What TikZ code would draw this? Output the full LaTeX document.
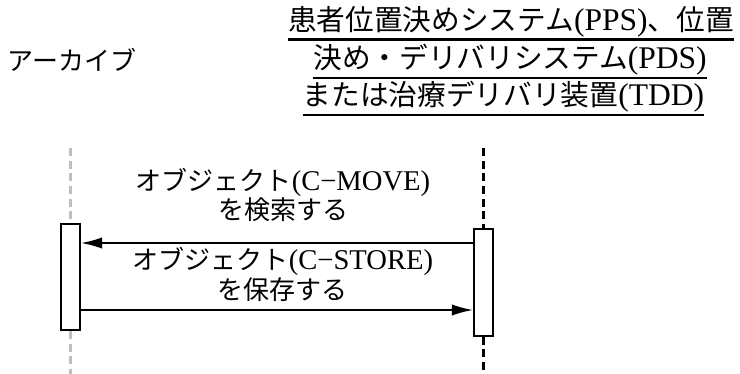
\documentclass[tikz,border=0pt]{standalone}
\usepackage{fontspec}
\setmainfont{Liberation Serif}[Scale=1.1]
\newfontfamily\cjk{Noto Sans CJK JP}
\newcommand{\jp}[1]{{\cjk #1}}
\usepackage{tikz}
\usetikzlibrary{positioning}
\usetikzlibrary{arrows.meta}
\definecolor{mygri1}{RGB}{190,190,190}
\tikzstyle{head} = [inner sep=0pt, font=\fontsize{21.5}{26}\selectfont]
\tikzstyle{msgtext} = [align=center, inner sep=0pt, font=\fontsize{19.5}{18.5}\selectfont]
\tikzstyle{actbox} = [rectangle, minimum width=14pt, inner sep=0pt, draw=black, fill=white, line width=1.5pt]
\tikzstyle{lifea} = [dash pattern=on 6pt off 3.5pt, line width=2pt, mygri1]
\tikzstyle{lifeb} = [dash pattern=on 6pt off 3.5pt, line width=1.8pt, black]
\tikzstyle{msg} = [line width=1.5pt, -{Latex[length=16pt,width=8.5pt]}]
\tikzstyle{uline} = [line width=1.8pt]

\begin{document}
\begin{tikzpicture}[x=0.75pt, y=-0.75pt]
	\useasboundingbox (0,0) rectangle (740,374);
	% headings
	\node (arc)[head, font=\fontsize{19.5}{24}\selectfont] at (72,60) {\jp{アーカイブ}};
	\node (hd1)[head] at (511,22) {\jp{患者位置決めシステム}(PPS)\jp{、位置}};
	\node (hd2)[head] at (510,60) {\jp{決め・デリバリシステム}(PDS)};
	\node (hd3)[head] at (503.5,97) {\jp{または治療デリバリ装置}(TDD)};
	\draw [uline] ([yshift=-1.5pt]hd1.south west) -- ([yshift=-1.5pt]hd1.south east);
	\draw [uline] ([yshift=-1.5pt]hd2.south west) -- ([yshift=-1.5pt]hd2.south east);
	\draw [uline] ([yshift=-1.5pt]hd3.south west) -- ([yshift=-1.5pt]hd3.south east);
	% lifelines
	\node (abox)[actbox, minimum height=79.5pt] at (70.5,277) {};
	\node (pbox)[actbox, minimum height=80pt] at (483.5,282.5) {};
	\coordinate (atop) at (70.5,148);
	\coordinate (abot) at (70.5,374);
	\coordinate (ptop) at (483.5,148);
	\coordinate (pbot) at (483.5,374);
	\draw [lifea] (atop) -- (abox.north);
	\draw [lifea] (abox.south) -- (abot);
	\draw [lifeb] (ptop) -- (pbox.north);
	\draw [lifeb] (pbox.south) -- (pbot);
	% messages
	\coordinate (m1) at (0,243);
	\coordinate (m2) at (0,310);
	\draw [msg] (pbox.west |- m1) -- (abox.east |- m1);
	\draw [msg] (abox.east |- m2) -- (pbox.west |- m2);
	\node (t1)[msgtext] at (283,195) {\jp{オブジェクト}(C−MOVE)\\\jp{を検索する}};
	\node (t2)[msgtext] at (283,274.5) {\jp{オブジェクト}(C−STORE)\\\jp{を保存する}};
\end{tikzpicture}
\end{document}
